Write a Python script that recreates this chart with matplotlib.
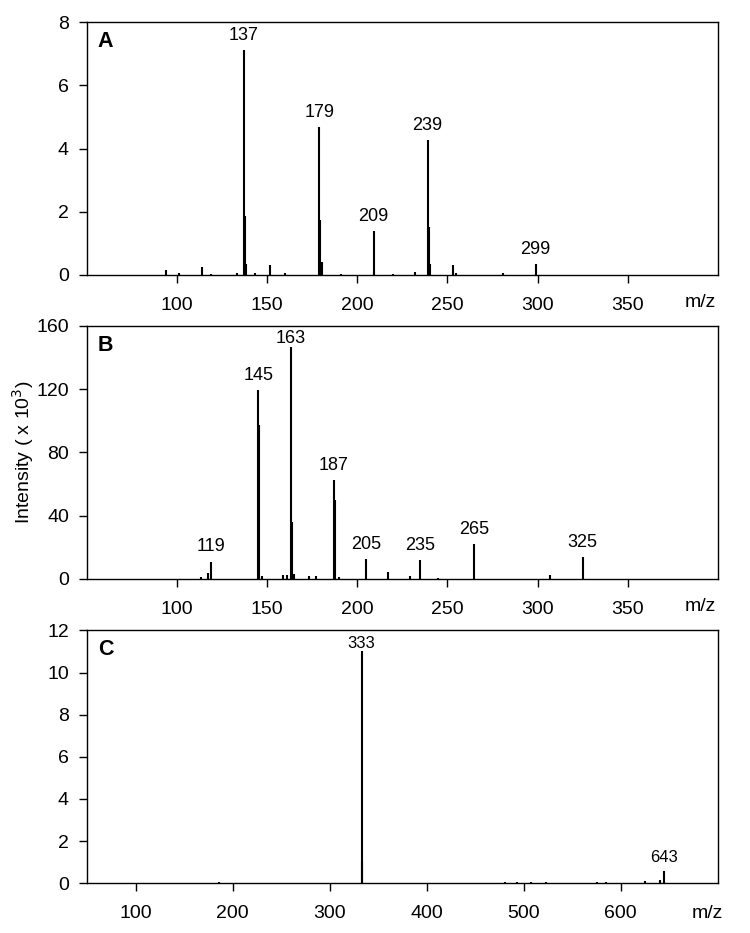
import matplotlib.pyplot as plt

plt.rcParams['font.family'] = ['Liberation Sans', 'DejaVu Sans']

# Panel A: m/z and intensity
mz_a = [94, 101, 114, 119, 133, 137, 137.5, 138.5, 143, 151.5, 160, 179, 179.5, 180.5,
        191, 209, 209.5, 220, 232, 239, 239.5, 240.5, 253, 255, 281, 299]
int_a = [0.16, 0.05, 0.26, 0.04, 0.05, 7.12, 1.85, 0.35, 0.05, 0.32, 0.05, 4.67, 1.74, 0.4,
         0.04, 1.39, 0.1, 0.04, 0.1, 4.27, 1.53, 0.35, 0.32, 0.06, 0.05, 0.34]
lab_a = [137, 179, 209, 239, 299]
lab_a_y = [7.12, 4.67, 1.39, 4.27, 0.34]

# Panel B
mz_b = [113, 117, 119, 145, 145.5, 147, 159, 161, 163, 163.5, 165, 173, 177, 187, 187.5,
        190, 205, 217, 229, 235, 245, 265, 307, 325]
int_b = [1.0, 3.4, 10.8, 119.5, 97, 2, 2.3, 2.3, 146.5, 36, 3, 1.5, 2, 62.5, 50,
         0.8, 12.3, 4.2, 1.5, 11.8, 0.5, 22, 2.1, 13.9]
lab_b = [119, 145, 163, 187, 205, 235, 265, 325]
lab_b_y = [10.8, 119.5, 146.5, 62.5, 12.3, 11.8, 22, 13.9]

# Panel C
mz_c = [186, 333, 333.5, 481, 493, 508, 523, 576, 585, 625, 641, 644.5]
int_c = [0.05, 11.0, 1.05, 0.08, 0.05, 0.05, 0.04, 0.04, 0.04, 0.1, 0.15, 0.58]
lab_c = [333, 643]
lab_c_x = [333, 644.5]
lab_c_y = [11.0, 0.58]

# labels squeezed under the top frame sit closer to their peak
tight_labels = {163, 333}

fig = plt.figure(figsize=(7.5, 9.33), dpi=100)
left, width, height = 0.116, 0.841, 0.271
ax_a = fig.add_axes([left, 0.7053, width, height])
ax_b = fig.add_axes([left, 0.3797, width, height])
ax_c = fig.add_axes([left, 0.0533, width, height])


def style(ax, xlim, xticks, ylim, yticks, letter, mzpos):
    ax.set_xlim(*xlim)
    ax.set_ylim(*ylim)
    ax.set_xticks(xticks)
    ax.set_yticks(yticks)
    ax.tick_params(axis='x', direction='out', length=6, width=1, pad=10, labelsize=14)
    ax.tick_params(axis='y', direction='out', length=6, width=1, pad=7, labelsize=14)
    for s in ax.spines.values():
        s.set_linewidth(1)
    ax.text(0.017, 0.965, letter, transform=ax.transAxes, ha='left', va='top',
            fontsize=15.5, fontweight='bold')
    ax.text(mzpos[0], mzpos[1], 'm/z', transform=ax.transAxes, ha='center', va='center',
            fontsize=14)


def peaks(ax, mz, inten, labs, lx, ly, fs=13):
    ax.vlines(mz, 0, inten, color='black', lw=1.5)
    for t, x, y in zip(labs, lx, ly):
        off = 0.5 if t in tight_labels else 4.5
        ax.annotate(str(t), (x, y), xytext=(0, off), textcoords='offset points',
                    ha='center', va='bottom', fontsize=fs)


peaks(ax_a, mz_a, int_a, lab_a, lab_a, lab_a_y)
style(ax_a, (50, 400), [100, 150, 200, 250, 300, 350], (0, 8), [0, 2, 4, 6, 8], 'A', (0.972, -0.11))

peaks(ax_b, mz_b, int_b, lab_b, lab_b, lab_b_y)
style(ax_b, (50, 400), [100, 150, 200, 250, 300, 350], (0, 160), [0, 40, 80, 120, 160], 'B', (0.972, -0.11))
ax_b.set_ylabel('Intensity ( x 10$^3$)', fontsize=14)
ax_b.yaxis.set_label_coords(-0.081, 0.5)

peaks(ax_c, mz_c, int_c, lab_c, lab_c_x, lab_c_y, fs=12)
style(ax_c, (50, 700), [100, 200, 300, 400, 500, 600], (0, 12), [0, 2, 4, 6, 8, 10, 12], 'C', (0.983, -0.118))

plt.savefig('out.png', dpi=100)
